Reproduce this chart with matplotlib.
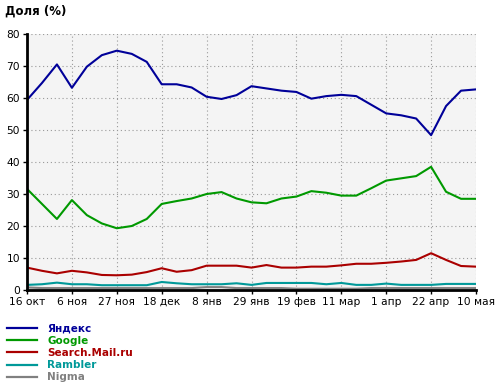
import matplotlib
matplotlib.use("Agg")
import matplotlib.pyplot as plt
from matplotlib.lines import Line2D

# weekly points, 16 окт .. 10 мая
weeks = list(range(31))
tick_pos = list(range(0, 31, 3))
tick_labels = ["16 окт", "6 ноя", "27 ноя", "18 дек", "8 янв", "29 янв",
               "19 фев", "11 мар", "1 апр", "22 апр", "10 мая"]

yandex = [59.4, 64.7, 70.5, 63.2, 69.8, 73.4, 74.8, 73.8, 71.3, 64.3, 64.3,
          63.3, 60.4, 59.7, 60.9, 63.7, 63.0, 62.3, 61.9, 59.8, 60.6, 61.0,
          60.6, 57.9, 55.2, 54.6, 53.6, 48.4, 57.5, 62.3, 62.7]
google = [31.6, 26.9, 22.2, 28.1, 23.4, 20.8, 19.3, 20.0, 22.2, 26.9, 27.8,
          28.6, 30.0, 30.6, 28.6, 27.4, 27.1, 28.6, 29.2, 30.9, 30.4, 29.5,
          29.5, 31.8, 34.2, 34.9, 35.6, 38.5, 30.7, 28.5, 28.5]
mailru = [7.0, 6.0, 5.2, 6.0, 5.5, 4.7, 4.6, 4.8, 5.6, 6.8, 5.7,
          6.2, 7.6, 7.6, 7.6, 7.0, 7.8, 7.0, 7.0, 7.3, 7.3, 7.7,
          8.2, 8.2, 8.5, 8.9, 9.4, 11.5, 9.4, 7.5, 7.3]
rambler = [1.6, 1.8, 2.3, 1.8, 1.8, 1.5, 1.5, 1.5, 1.5, 2.5, 2.1,
           1.8, 1.8, 1.8, 2.1, 1.6, 2.2, 2.2, 2.2, 2.2, 1.8, 2.2,
           1.6, 1.6, 2.0, 1.6, 1.6, 1.6, 1.9, 1.9, 1.9]
nigma = [0.8, 0.6, 0.6, 0.6, 0.6, 0.6, 0.6, 0.6, 0.6, 0.6, 0.6,
         0.6, 0.9, 0.9, 0.6, 0.6, 0.6, 0.6, 0.4, 0.4, 0.4, 0.4,
         0.4, 0.6, 0.6, 0.6, 0.6, 0.6, 0.6, 0.6, 0.6]

series = [
    ("Яндекс", yandex, "#000099"),
    ("Google", google, "#009900"),
    ("Search.Mail.ru", mailru, "#aa0000"),
    ("Rambler", rambler, "#009999"),
    ("Nigma", nigma, "#808080"),
]

plt.rcParams["font.family"] = ["DejaVu Sans"]

fig = plt.figure(figsize=(5.0, 3.89), dpi=100)
ax = fig.add_axes([0.054, 0.2545, 0.898, 0.658])
ax.set_facecolor("#f4f4f4")

# draw bottom series first so Yandex stays on top
for name, vals, col in reversed(series):
    ax.plot(weeks, vals, color=col, linewidth=1.5, solid_joinstyle="round")

ax.set_xlim(0, 30)
ax.set_ylim(0, 80)
ax.set_yticks(range(0, 81, 10))
ax.set_xticks(tick_pos)
ax.set_xticklabels(tick_labels)
ax.tick_params(axis="both", labelsize=7.7, length=3, width=1, color="black", pad=2)
ax.grid(True, linestyle=(0, (1, 2.5)), color="#999999", linewidth=0.8)

for s in ["top", "right"]:
    ax.spines[s].set_visible(False)
ax.spines["left"].set_linewidth(2)
ax.spines["bottom"].set_linewidth(2)

fig.text(0.01, 0.988, "Доля (%)", fontsize=8.5, fontweight="bold", va="top", ha="left")

handles = [Line2D([], [], color=col, linewidth=1.6) for _, _, col in series]
leg = fig.legend(handles, [n for n, _, _ in series], loc="upper left",
                 bbox_to_anchor=(0.005, 0.178), frameon=False,
                 handlelength=2.9, handletextpad=1.0, labelspacing=0.2,
                 borderaxespad=0, prop={"size": 7.5, "weight": "bold"})
for txt, (_, _, col) in zip(leg.get_texts(), series):
    txt.set_color(col)

fig.savefig("out.png", dpi=100)
